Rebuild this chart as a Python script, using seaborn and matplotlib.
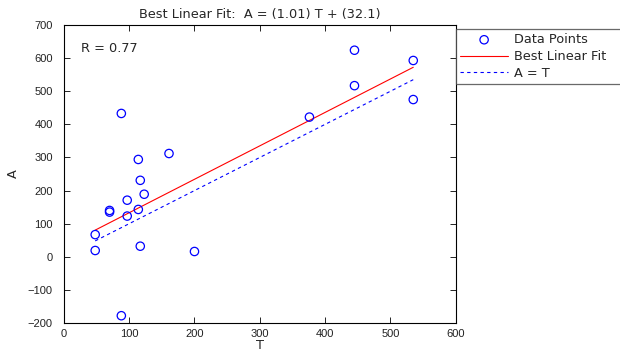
import numpy as np
import pandas as pd
import seaborn as sns
import matplotlib
matplotlib.use("Agg")
import matplotlib.pyplot as plt

# data points
t_vals = [48, 48, 70, 70, 97, 97, 114, 117, 123, 117, 200, 88,
          88, 114, 161, 376, 445, 445, 535, 535]
a_vals = [67, 19, 140, 135, 171, 123, 143, 231, 189, 32, 16, -178,
          433, 294, 312, 422, 624, 517, 593, 475]

fit_slope = 1.01
fit_intercept = 32.1
r_value = 0.77

sns.set_theme(style="white")
plt.rcParams['font.family'] = ['Liberation Sans', 'DejaVu Sans']
plt.rcParams['font.size'] = 8
big = dict(family=['DejaVu Sans'], size=9.3)

fig = plt.figure(figsize=(6.2, 3.53), dpi=100)
ax = fig.add_axes([0.103, 0.085, 0.632, 0.844])

df = pd.DataFrame({'T': t_vals, 'A': a_vals})
t_line = np.array([min(t_vals), max(t_vals)])
lines = pd.DataFrame({
    'T': t_line,
    'fit': fit_slope * t_line + fit_intercept,
    'ident': t_line,
})

sns.scatterplot(data=df, x='T', y='A', ax=ax, marker='o', s=36,
                facecolors='none', edgecolor='#0000ff', linewidth=0.9,
                label='Data Points', zorder=3)
sns.lineplot(data=lines, x='T', y='fit', ax=ax, color='#ff0000',
             linewidth=0.8, label='Best Linear Fit')
sns.lineplot(data=lines, x='T', y='ident', ax=ax, color='#0000ff',
             linewidth=0.8, linestyle=(0, (3, 3)), label='A = T')

ax.set_xlim(0, 600)
ax.set_ylim(-200, 700)
ax.set_xticks(range(0, 601, 100))
ax.set_yticks(range(-200, 701, 100))
ax.tick_params(direction='in', length=4, width=0.6, colors='black',
               top=True, right=True, labelsize=8,
               bottom=True, left=True, labelcolor='#222222')
ax.tick_params(axis='x', pad=4)
ax.tick_params(axis='y', pad=8)
for sp in ax.spines.values():
    sp.set_color('black')
    sp.set_linewidth(0.8)

ax.set_xlabel('T', fontdict=big, labelpad=0)
ax.set_ylabel('A', fontdict=big, labelpad=6)
ax.set_title('Best Linear Fit:  A = (%.2f) T + (%.1f)' % (fit_slope, fit_intercept),
             fontdict=big, pad=5)
ax.text(0.045, 0.922, 'R = %.2f' % r_value, transform=ax.transAxes,
        va='center', ha='left', **big)

leg = ax.legend(loc='upper left', bbox_to_anchor=(1.0, 0.988, 0.45, 0.0),
                mode='expand', prop={'family': 'DejaVu Sans', 'size': 9.3},
                frameon=True, fancybox=False,
                borderaxespad=0, handlelength=3.7, handletextpad=0.45,
                labelspacing=0.3, borderpad=0.35)
leg.get_frame().set_edgecolor('#444444')
leg.get_frame().set_linewidth(0.9)

fig.savefig('out.png', dpi=100)
